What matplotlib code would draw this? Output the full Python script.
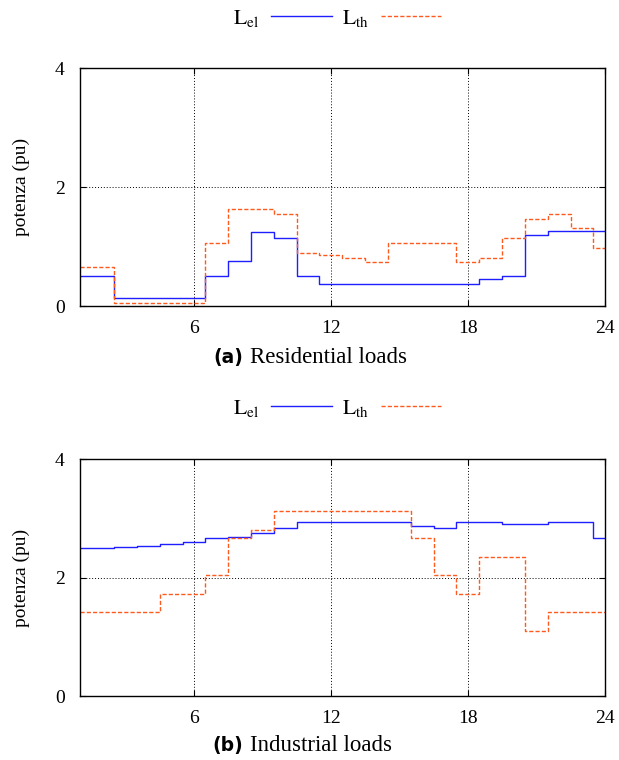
import numpy as np
import matplotlib
matplotlib.use("Agg")
from matplotlib import pyplot as plt

plt.rcParams['font.family'] = ['Liberation Serif', 'DejaVu Serif']
plt.rcParams['mathtext.fontset'] = 'stix'

hours = np.arange(1, 25)

# residential loads (pu)
res_el = [0.5, 0.5, 0.14, 0.14, 0.14, 0.14, 0.5, 0.76, 1.25, 1.14, 0.5, 0.38,
          0.38, 0.38, 0.38, 0.38, 0.38, 0.38, 0.45, 0.51, 1.2, 1.26, 1.26, 1.26]
res_th = [0.66, 0.66, 0.06, 0.06, 0.06, 0.06, 1.07, 1.64, 1.64, 1.55, 0.9, 0.86,
          0.81, 0.74, 1.07, 1.07, 1.07, 0.74, 0.81, 1.15, 1.46, 1.55, 1.31, 0.98]

# industrial loads (pu)
ind_el = [2.49, 2.49, 2.515, 2.54, 2.57, 2.6, 2.66, 2.69, 2.745, 2.835, 2.93, 2.93,
          2.93, 2.93, 2.93, 2.87, 2.835, 2.93, 2.93, 2.9, 2.9, 2.93, 2.93, 2.67]
ind_th = [1.42, 1.42, 1.42, 1.42, 1.72, 1.72, 2.04, 2.66, 2.81, 3.13, 3.13, 3.13,
          3.13, 3.13, 3.13, 2.67, 2.04, 1.73, 2.35, 2.35, 1.1, 1.42, 1.42, 1.42]

xticks = [6, 12, 18, 24]
yticks = [0, 2, 4]
captions = [("(a)", "Residential loads"), ("(b)", "Industrial loads")]

BLUE = "#1e1eff"
ORANGE = "#ff5a1e"

fig = plt.figure(figsize=(6.19, 7.60), dpi=100)
boxes = [[0.129, 0.597, 0.848, 0.3135], [0.129, 0.0842, 0.848, 0.3118]]
series = [(res_el, res_th), (ind_el, ind_th)]
legend_y = [0.976, 0.463]
caption_y = [0.530, 0.0197]

for i in range(2):
    ax = fig.add_axes(boxes[i])
    el, th = series[i]
    ax.step(hours, el, where="mid", color=BLUE, lw=1.0, label=r"$\mathrm{L}_{\mathrm{el}}$")
    ax.step(hours, th, where="mid", color=ORANGE, lw=1.0, ls=(0, (3, 1.5)),
            label=r"$\mathrm{L}_{\mathrm{th}}$")
    ax.set_xlim(1, 24)
    ax.set_ylim(0, 4)
    ax.set_xticks(xticks)
    ax.set_yticks(yticks)
    ax.tick_params(direction="in", top=True, right=True, labelsize=14,
                   length=4, width=0.8)
    ax.tick_params(axis="x", pad=10)
    ax.tick_params(axis="y", pad=11)
    ax.grid(True, color="black", ls=(0, (1, 2)), lw=0.7)
    for s in ax.spines.values():
        s.set_linewidth(1.0)
    ax.set_ylabel("potenza (pu)", fontsize=14, labelpad=18)
    fig.legend(*ax.get_legend_handles_labels(), loc="center",
               bbox_to_anchor=(0.545, legend_y[i]), ncol=2, frameon=False,
               markerfirst=False, fontsize=15.5, handlelength=2.8,
               columnspacing=0.5, handletextpad=0.55)
    # caption: bold sans label + serif text
    fig.text(0.393, caption_y[i], captions[i][0], fontsize=13.5, fontweight="bold",
             family="DejaVu Sans", ha="right", va="center")
    fig.text(0.404, caption_y[i], captions[i][1], fontsize=16.5, ha="left", va="center")

fig.savefig("out.png", dpi=100)
